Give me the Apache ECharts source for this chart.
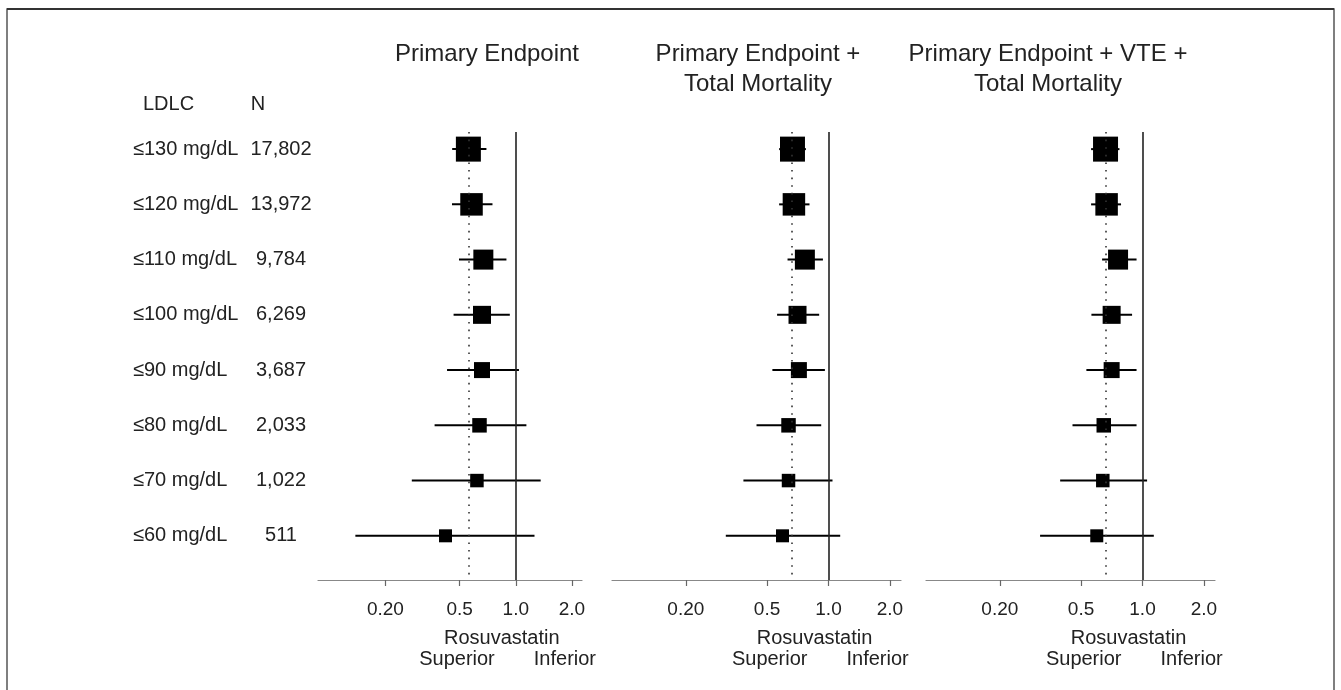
<!DOCTYPE html>
<html>
<head>
<meta charset="utf-8">
<script src="https://cdn.jsdelivr.net/npm/echarts@6/dist/echarts.min.js"></script>
<style>
html,body{margin:0;padding:0;background:#fff;}
#chart{width:1341px;height:690px;}
</style>
</head>
<body>
<div id="chart"></div>
<script>
// ---------------- data ----------------
const categories = ['≤130 mg/dL','≤120 mg/dL','≤110 mg/dL','≤100 mg/dL','≤90 mg/dL','≤80 mg/dL','≤70 mg/dL','≤60 mg/dL'];
const nValues = ['17,802','13,972','9,784','6,269','3,687','2,033','1,022','511'];
const panelTitles = ['Primary Endpoint', 'Primary Endpoint +\nTotal Mortality', 'Primary Endpoint + VTE +\nTotal Mortality'];

const hrPrimary = [0.557, 0.579, 0.670, 0.659, 0.659, 0.639, 0.619, 0.420];
const loPrimary = [0.456, 0.455, 0.496, 0.464, 0.428, 0.367, 0.277, 0.138];
const hiPrimary = [0.696, 0.750, 0.891, 0.929, 1.04, 1.14, 1.36, 1.26];

const hrMort = [0.666, 0.677, 0.766, 0.705, 0.716, 0.637, 0.637, 0.595];
const loMort = [0.573, 0.573, 0.630, 0.560, 0.531, 0.444, 0.383, 0.314];
const hiMort = [0.775, 0.807, 0.939, 0.900, 0.960, 0.921, 1.046, 1.141];

const hrVte = [0.659, 0.667, 0.759, 0.706, 0.706, 0.646, 0.639, 0.597];
const loVte = [0.560, 0.560, 0.634, 0.562, 0.531, 0.454, 0.395, 0.315];
const hiVte = [0.771, 0.785, 0.935, 0.889, 0.935, 0.935, 1.053, 1.136];

const overallHR = [0.56, 0.665, 0.66];
const tickValues = [0.2, 0.5, 1.0, 2.0];
const tickLabels = ['0.20', '0.5', '1.0', '2.0'];
const axisRangeHR = [0.087, 2.265];

// ---------------- style ----------------
const boxSizes = [25, 22.5, 20, 18, 16, 14.5, 13.5, 13];
const FONT = '"Liberation Sans", Arial, sans-serif';
const grids = [
  {left: 318, width: 264},
  {left: 612, width: 289},
  {left: 926, width: 289}
];
const gridTop = 132, gridHeight = 448;

const panels = [
  {hr: hrPrimary, lo: loPrimary, hi: hiPrimary},
  {hr: hrMort, lo: loMort, hi: hiMort},
  {hr: hrVte, lo: loVte, hi: hiVte}
];

const L = Math.log10;
const chart = echarts.init(document.getElementById('chart'), null, {renderer: 'canvas'});

const option = {
  backgroundColor: '#fff',
  animation: false,
  grid: grids.map(g => ({left: g.left, width: g.width, top: gridTop, height: gridHeight, containLabel: false})),
  xAxis: grids.map((g, i) => ({
    type: 'value', gridIndex: i, position: 'bottom',
    min: L(axisRangeHR[0]), max: L(axisRangeHR[1]),
    splitLine: {show: false},
    axisLine: {show: true, onZero: false, lineStyle: {color: '#888', width: 1.2}},
    axisTick: {show: true, length: 6, customValues: tickValues.map(L), lineStyle: {color: '#666', width: 1.2}},
    axisLabel: {
      show: true, margin: 20, customValues: tickValues.map(L),
      fontFamily: FONT, fontSize: 19, color: '#222',
      formatter: v => {
        const k = tickValues.findIndex(t => Math.abs(L(t) - v) < 1e-6);
        return k >= 0 ? tickLabels[k] : '';
      }
    }
  })),
  yAxis: grids.map((g, i) => ({
    type: 'value', gridIndex: i, inverse: true,
    min: -0.31, max: 7.8,
    splitLine: {show: false},
    axisLine: {show: false, onZero: false},
    axisTick: {show: false},
    axisLabel: i === 0 ? {
      show: true,
      customValues: categories.map((c, k) => k),
      align: 'left',
      margin: 318 - 133,
      formatter: v => `{a|${categories[v]}}{b|${nValues[v]}}`,
      rich: {
        a: {width: 119, align: 'left', fontFamily: FONT, fontSize: 20, color: '#222'},
        b: {width: 58, align: 'center', fontFamily: FONT, fontSize: 20, color: '#222'}
      }
    } : {show: false}
  })),
  series: [],
  graphic: []
};

panels.forEach((p, i) => {
  option.series.push({
    type: 'custom', xAxisIndex: i, yAxisIndex: i, silent: true,
    data: categories.map((c, k) => [L(p.lo[k]), L(p.hi[k]), k]),
    encode: {x: [0, 1], y: 2},
    renderItem: (params, api) => {
      const a = api.coord([api.value(0), api.value(2)]);
      const b = api.coord([api.value(1), api.value(2)]);
      return {type: 'line', shape: {x1: a[0], y1: a[1], x2: b[0], y2: b[1]},
              style: {stroke: '#000', lineWidth: 2}};
    },
    z: 3
  });
  option.series.push({
    type: 'scatter', xAxisIndex: i, yAxisIndex: i, silent: true,
    symbol: 'rect',
    symbolSize: (val, params) => boxSizes[params.dataIndex],
    itemStyle: {color: '#000', opacity: 1},
    data: categories.map((c, k) => [L(p.hr[k]), k]),
    z: 4,
    markLine: {
      silent: true, symbol: 'none', label: {show: false}, animation: false,
      data: [
        {xAxis: 0, lineStyle: {color: '#222', width: 1.6, type: 'solid'}},
        {xAxis: L(overallHR[i]), lineStyle: {color: '#333', width: 1.6, type: [1.6, 6]}}
      ]
    }
  });
});

// text elements (titles, headers, direction labels)
const lineX = grids.map((g, i) => {
  const lo = L(axisRangeHR[0]), hi = L(axisRangeHR[1]);
  return g.left + (0 - lo) / (hi - lo) * g.width;
});
const titleCenters = [487, 758, 1048];
const txt = (x, y, s, align, size) => ({
  type: 'text', x: x, y: y, silent: true,
  style: {text: s, fontFamily: FONT, fontSize: size || 20, fill: '#222', align: align || 'center', verticalAlign: 'middle', lineHeight: 30}
});
panelTitles.forEach((t, i) => {
  const lines = t.split('\n');
  lines.forEach((ln, j) => option.graphic.push(txt(titleCenters[i], 54 + j * 30, ln, 'center', 24)));
});
option.graphic.push(txt(143, 104, 'LDLC', 'left', 20));
option.graphic.push(txt(258, 104, 'N', 'center', 20));
lineX.forEach(x => {
  option.graphic.push(txt(x - 14, 638, 'Rosuvastatin', 'center', 20));
  option.graphic.push(txt(x - 21, 659, 'Superior', 'right', 20));
  option.graphic.push(txt(x + 18, 659, 'Inferior', 'left', 20));
});
// frame
option.graphic.push({type: 'rect', silent: true, shape: {x: 7, y: 9, width: 1327, height: 720},
  style: {fill: 'none', stroke: '#555', lineWidth: 1.5}});
option.graphic.push({type: 'line', silent: true, shape: {x1: 7, y1: 9, x2: 1334, y2: 9},
  style: {stroke: '#333', lineWidth: 2}});

chart.setOption(option);
</script>
</body>
</html>
